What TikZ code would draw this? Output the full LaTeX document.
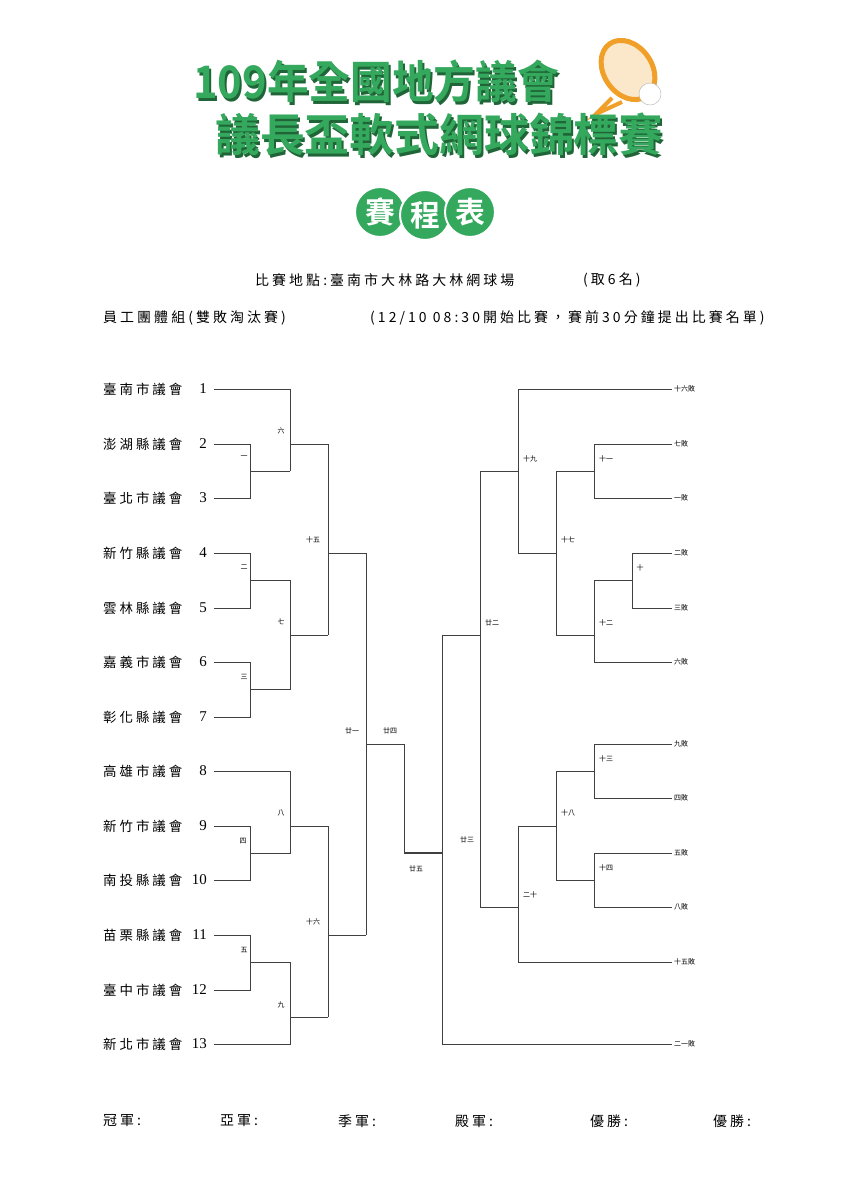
\documentclass[tikz,border=0pt]{standalone}
\usepackage{fontspec}
\usepackage{graphicx}
\setmainfont{Liberation Serif}
\newfontfamily\cjk{Noto Sans CJK TC}
\newfontfamily\cjks{Noto Sans CJK TC}[LetterSpace=22]
\newfontfamily\cjkb{Noto Sans CJK TC}[BoldFont={* Bold}]
\definecolor{titlegreen}{RGB}{52,168,92}
\definecolor{racket}{RGB}{240,160,40}
\tikzset{%
  bline/.style   = {draw=black!75, line width=0.9bp},
  team/.style    = {anchor=west, font=\cjks\fontsize{13.5}{13.5}\selectfont, inner sep=0pt},
  seed/.style    = {anchor=east, font=\fontsize{15}{15}\selectfont, inner sep=0pt},
  game/.style    = {font=\cjk\fontsize{7}{7}\selectfont, inner sep=0pt}, % match number
  loss/.style    = {anchor=west, font=\cjk\fontsize{7}{7}\selectfont, inner sep=0pt},
  head/.style    = {anchor=west, font=\cjks\fontsize{14}{14}\selectfont, inner sep=0pt},
  title/.style   = {anchor=west, font=\cjkb\bfseries\fontsize{45}{45}\selectfont, text=titlegreen, inner sep=0pt},
  shade/.style   = {anchor=west, font=\cjkb\bfseries\fontsize{45}{45}\selectfont, text=titlegreen!60!black, inner sep=0pt},
  ball/.style    = {draw, circle, fill=titlegreen, draw=white, line width=2bp, minimum size=50bp,
    text=white, font=\cjkb\bfseries\fontsize{30}{30}\selectfont, inner sep=0pt}
}
\begin{document}
\begin{tikzpicture}[x=1bp, y=-1bp]
  \useasboundingbox (0,0) rectangle (857,1200);

  % title
  \draw[racket, line width=5bp, fill=racket!25, rotate around={35:(628,70)}] (628,70) ellipse (24 and 32);
  \draw[racket, line width=4bp] (612,98) -- (596,114) -- (622,102);
  \node[draw=black!30, fill=white, circle, minimum size=22bp, inner sep=0pt] (tb) at (650,94) {};
  \node[shade] (t1s) at (195,84) {\scalebox{0.93}[1]{109年全國地方議會}};
  \node[title] (t1) at (193,81) {\scalebox{0.93}[1]{109年全國地方議會}};
  \node[shade] (t2s) at (217,137) {\scalebox{1.0}[1]{議長盃軟式網球錦標賽}};
  \node[title] (t2) at (215,134) {\scalebox{1.0}[1]{議長盃軟式網球錦標賽}};
  \node[ball] (s1) at (380,212) {賽};
  \node[ball] (s2) at (425,215) {程};
  \node[ball] (s3) at (470,212) {表};

  % heading
  \node[head] (h1) at (255,280) {比賽地點:臺南市大林路大林網球場};
  \node[head] (h1b) at (583,280) {(取6名)};
  \node[head] (h2) at (103,318) {員工團體組(雙敗淘汰賽)};
  \node[head] (h2b) at (370,318) {(12/10 08:30開始比賽，賽前30分鐘提出比賽名單)};

  % teams
  \foreach \n/\name/\y in {1/臺南市議會/389, 2/澎湖縣議會/444, 3/臺北市議會/498,
      4/新竹縣議會/553, 5/雲林縣議會/608, 6/嘉義市議會/662, 7/彰化縣議會/717,
      8/高雄市議會/771, 9/新竹市議會/826, 10/南投縣議會/880, 11/苗栗縣議會/935,
      12/臺中市議會/990, 13/新北市議會/1044}{
    \node[team] (team\n) at (103,\y) {\name};
    \node[seed] (seed\n) at (207,\y) {\n};
  }

  % winners bracket
  \draw[bline] (214,444) -| (250,498) -- (214,498);
  \draw[bline] (250,471) -- (290,471);
  \draw[bline] (214,389) -| (290,471);
  \draw[bline] (290,444) -- (328,444);
  \draw[bline] (214,553) -| (250,608) -- (214,608);
  \draw[bline] (214,662) -| (250,717) -- (214,717);
  \draw[bline] (250,580) -| (290,689) -- (250,689);
  \draw[bline] (290,635) -- (328,635);
  \draw[bline] (328,444) -- (328,635);
  \draw[bline] (328,553) -- (366,553);
  \draw[bline] (214,826) -| (250,880) -- (214,880);
  \draw[bline] (214,771) -| (290,853) -- (250,853);
  \draw[bline] (290,826) -- (328,826);
  \draw[bline] (214,935) -| (250,990) -- (214,990);
  \draw[bline] (250,962) -| (290,1044) -- (214,1044);
  \draw[bline] (290,1017) -- (328,1017);
  \draw[bline] (328,826) -- (328,1017);
  \draw[bline] (328,935) -- (366,935);
  \draw[bline] (366,553) -- (366,935);
  \draw[bline] (366,744) -| (404,853);
  \draw[bline, line width=2bp] (404,853) -- (442,853);

  % losers bracket
  \draw[bline] (442,635) -- (442,1044) -- (672,1044);
  \draw[bline] (442,635) -- (480,635);
  \draw[bline] (480,471) -- (480,907);
  \draw[bline] (480,471) -| (518,553) -- (556,553);
  \draw[bline] (518,389) -- (672,389);
  \draw[bline] (518,389) -- (518,471);
  \draw[bline] (556,471) -- (556,635);
  \draw[bline] (556,471) -| (594,498) -- (672,498);
  \draw[bline] (594,471) |- (672,444);
  \draw[bline] (556,635) -| (594,662) -- (672,662);
  \draw[bline] (594,635) |- (632,580);
  \draw[bline] (672,553) -| (632,608) -- (672,608);
  \draw[bline] (480,907) -| (518,962) -- (672,962);
  \draw[bline] (518,907) |- (556,826);
  \draw[bline] (556,771) -- (556,880);
  \draw[bline] (556,771) -| (594,744) -- (672,744);
  \draw[bline] (594,771) |- (672,798);
  \draw[bline] (556,880) -| (594,853) -- (672,853);
  \draw[bline] (594,880) |- (672,907);

  % match labels
  \foreach \t/\x/\y in {六/281/431, 一/244/457, 二/244/567, 七/281/622, 三/244/677,
      十五/313/540, 廿一/352/731, 廿四/390/731, 八/281/813, 四/243/841, 十六/313/922,
      五/244/950, 九/281/1005, 廿五/416/869, 廿二/492/623, 廿三/467/840, 十九/530/459,
      十一/606/459, 十七/568/540, 十/640/568, 十二/606/623, 十三/606/759, 十八/568/813,
      十四/606/868, 二十/530/895}{
    \node[game] at (\x,\y) {\t};
  }
  \foreach \t/\y in {十六敗/389, 七敗/444, 一敗/498, 二敗/553, 三敗/608, 六敗/662,
      九敗/744, 四敗/798, 五敗/853, 八敗/907, 十五敗/962, 二一敗/1044}{
    \node[loss] at (674,\y) {\t};
  }

  % footer
  \foreach \t/\x in {冠軍/103, 亞軍/220, 季軍/338, 殿軍/455, 優勝/590, 優勝/713}{
    \node[head] at (\x,1121) {\t:};
  }
\end{tikzpicture}
\end{document}
